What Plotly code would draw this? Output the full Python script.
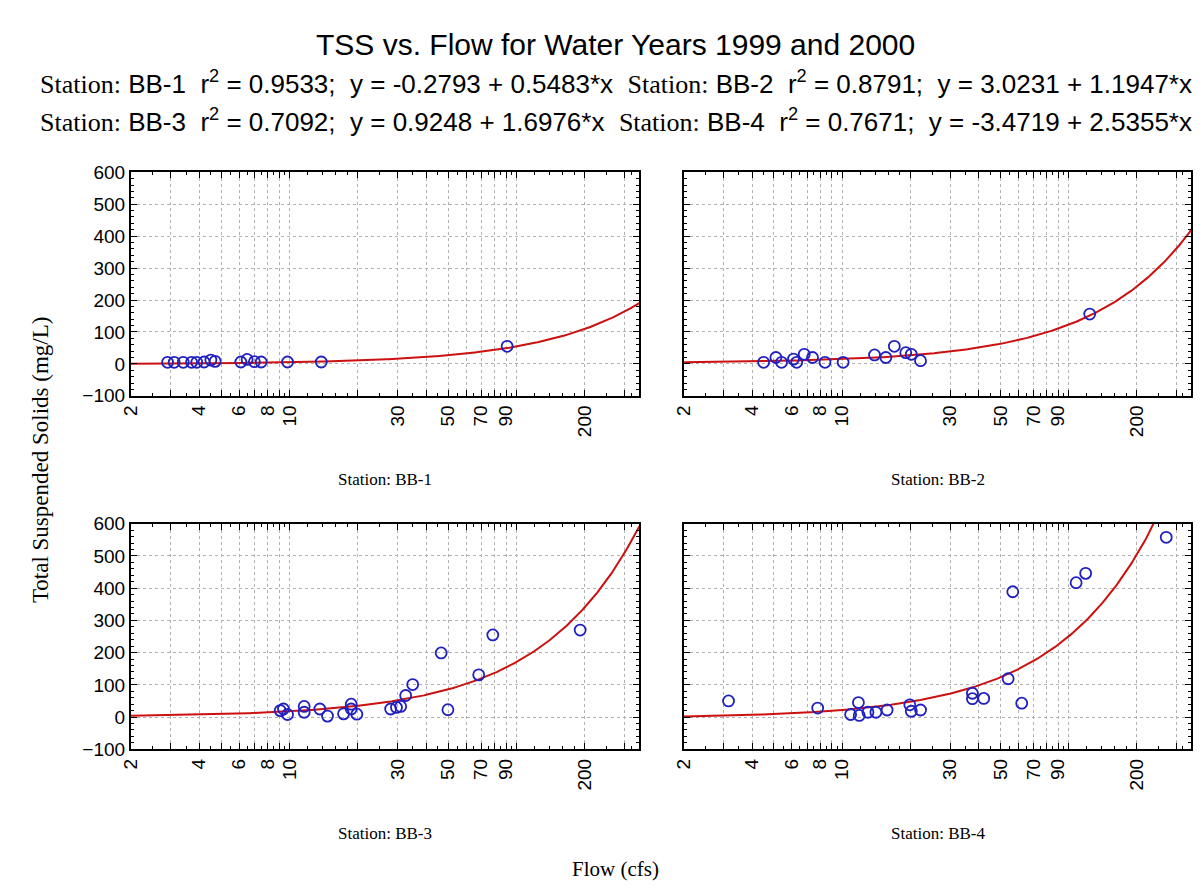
import numpy as np
import plotly.graph_objects as go

# ---------------- data ----------------
stations = ["BB-1", "BB-2", "BB-3", "BB-4"]
r2_values = [0.9533, 0.8791, 0.7092, 0.7671]
intercepts = [-0.2793, 3.0231, 0.9248, -3.4719]
slopes = [0.5483, 1.1947, 1.6976, 2.5355]

bb1_flow = [2.9, 3.1, 3.4, 3.7, 3.9, 4.2, 4.5, 4.7, 6.1, 6.5, 7.0, 7.5, 9.8, 13.8, 91]
bb1_tss = [5, 5, 5, 5, 5, 6, 12, 8, 6, 14, 7, 6, 6, 6, 55]

bb2_flow = [4.5, 5.1, 5.4, 6.1, 6.3, 6.8, 7.4, 8.4, 10.1, 13.9, 15.6, 17.0, 19.1, 20.2, 22.2, 124]
bb2_tss = [5, 20, 5, 15, 5, 30, 20, 5, 5, 28, 20, 55, 35, 30, 10, 156]

bb3_flow = [9.1, 9.4, 9.8, 11.6, 11.6, 13.6, 14.7, 17.3, 18.7, 18.7, 19.8,
            27.9, 29.6, 30.9, 32.5, 34.9, 46.6, 49.9, 68.2, 78.7, 191]
bb3_tss = [20, 25, 8, 33, 15, 25, 3, 10, 40, 25, 9,
           25, 30, 33, 67, 101, 199, 23, 131, 255, 270]

bb4_flow = [3.15, 7.8, 10.9, 11.8, 11.9, 13.0, 14.1, 15.8, 19.9, 20.2, 22.2,
            37.6, 37.6, 42.2, 54.1, 56.7, 62.1, 108, 119, 270]
bb4_tss = [50, 28, 8, 45, 5, 15, 15, 22, 38, 18, 22,
           74, 57, 58, 119, 389, 43, 417, 446, 558]

flows = [bb1_flow, bb2_flow, bb3_flow, bb4_flow]
tss = [bb1_tss, bb2_tss, bb3_tss, bb4_tss]

x_tick_vals = [2, 3, 4, 5, 6, 7, 8, 9, 10, 20, 30, 40, 50, 60, 70, 80, 90, 100, 200, 300]
x_tick_text = ["2", "", "4", "", "6", "", "8", "", "10", "", "30", "", "50", "", "70", "", "90", "", "200", ""]
y_tick_vals = [-100, 0, 100, 200, 300, 400, 500, 600]
x_min, x_max = 2, 348
y_min, y_max = -100, 600

# ---------------- layout geometry (pixels) ----------------
W, H = 1204, 888
col_px = [(113, 626), (671, 1183)]
row_px = [(158, 387), (518, 749)]

fig = go.Figure()

minor_x = [2.5, 3.5, 4.5, 5.5, 6.5, 7.5, 8.5, 9.5, 12, 14, 16, 18, 25, 35, 45, 55, 65, 75, 85, 95,
           120, 140, 160, 180, 250, 320]

line_x = np.geomspace(x_min, x_max, 400)

for i in range(4):
    r, c = divmod(i, 2)
    ax = "" if i == 0 else str(i + 1)
    xd = [col_px[c][0] / W, col_px[c][1] / W]
    yd = [1 - row_px[r][1] / H, 1 - row_px[r][0] / H]
    fig.add_trace(go.Scatter(
        x=line_x, y=intercepts[i] + slopes[i] * line_x, mode="lines",
        line=dict(color="#cc1010", width=2), xaxis="x" + ax, yaxis="y" + ax,
        showlegend=False, hoverinfo="skip"))
    fig.add_trace(go.Scatter(
        x=flows[i], y=tss[i], mode="markers",
        marker=dict(symbol="circle-open", size=11, color="#2020c0", line=dict(width=1.8)),
        xaxis="x" + ax, yaxis="y" + ax, showlegend=False))
    fig.layout["xaxis" + ax] = dict(
        domain=xd, anchor="y" + ax, type="log",
        range=[np.log10(x_min), np.log10(x_max)],
        tickvals=x_tick_vals, ticktext=x_tick_text, tickangle=-90,
        ticks="inside", ticklen=6, tickwidth=1, tickcolor="black",
        showline=True, linecolor="black", linewidth=2, mirror="ticks",
        showgrid=True, gridcolor="#b0b0b0", griddash="dot", gridwidth=1,
        minor=dict(tickvals=minor_x, ticks="inside", ticklen=3, tickcolor="black", showgrid=False),
        tickfont=dict(family="Liberation Sans", size=19, color="black"),
        zeroline=False, fixedrange=True)
    fig.layout["yaxis" + ax] = dict(
        domain=yd, anchor="x" + ax, range=[y_min, y_max],
        tickvals=y_tick_vals,
        showticklabels=(c == 0),
        ticks="inside", ticklen=6, tickwidth=1, tickcolor="black",
        showline=True, linecolor="black", linewidth=2, mirror="ticks",
        showgrid=True, gridcolor="#b0b0b0", griddash="dot", gridwidth=1,
        minor=dict(dtick=20, ticks="inside", ticklen=3, tickcolor="black", showgrid=False),
        tickfont=dict(family="Liberation Sans", size=19, color="black"),
        zeroline=False, fixedrange=True)

serif = "Liberation Serif"
sans = "Liberation Sans"


def header(i):
    return (f"<span style='font-family:{serif}'>Station:</span> {stations[i]}  r<sup>2</sup> = {r2_values[i]:.4f};  "
            f"y = {intercepts[i]:.4f} + {slopes[i]:.4f}*x")


annotations = [
    dict(text="TSS vs. Flow for Water Years 1999 and 2000", x=0.5, y=1 - 27 / H,
         font=dict(family=sans, size=30, color="black")),
    dict(text=header(0) + "  " + header(1), x=0.5, y=1 - 66 / H,
         font=dict(family=sans, size=26, color="black")),
    dict(text=header(2) + "  " + header(3), x=0.5, y=1 - 105 / H,
         font=dict(family=sans, size=26, color="black")),
    dict(text="Total Suspended Solids (mg/L)", x=22 / W, y=1 - 452 / H, textangle=-90,
         font=dict(family=serif, size=23, color="black")),
    dict(text="Flow (cfs)", x=602 / W, y=1 - 872 / H,
         font=dict(family=serif, size=21, color="black")),
]
for i in range(4):
    r, c = divmod(i, 2)
    cx = (col_px[c][0] + col_px[c][1]) / 2
    cy = row_px[r][1] + 86
    annotations.append(dict(text=f"Station: {stations[i]}", x=cx / W, y=1 - cy / H,
                            font=dict(family=serif, size=17, color="black")))
for a in annotations:
    a.update(xref="paper", yref="paper", showarrow=False, xanchor="center", yanchor="middle")

fig.update_layout(
    width=W, height=H, margin=dict(l=0, r=0, t=0, b=0),
    paper_bgcolor="white", plot_bgcolor="white",
    annotations=annotations, showlegend=False,
)

fig.write_html("out.html")
